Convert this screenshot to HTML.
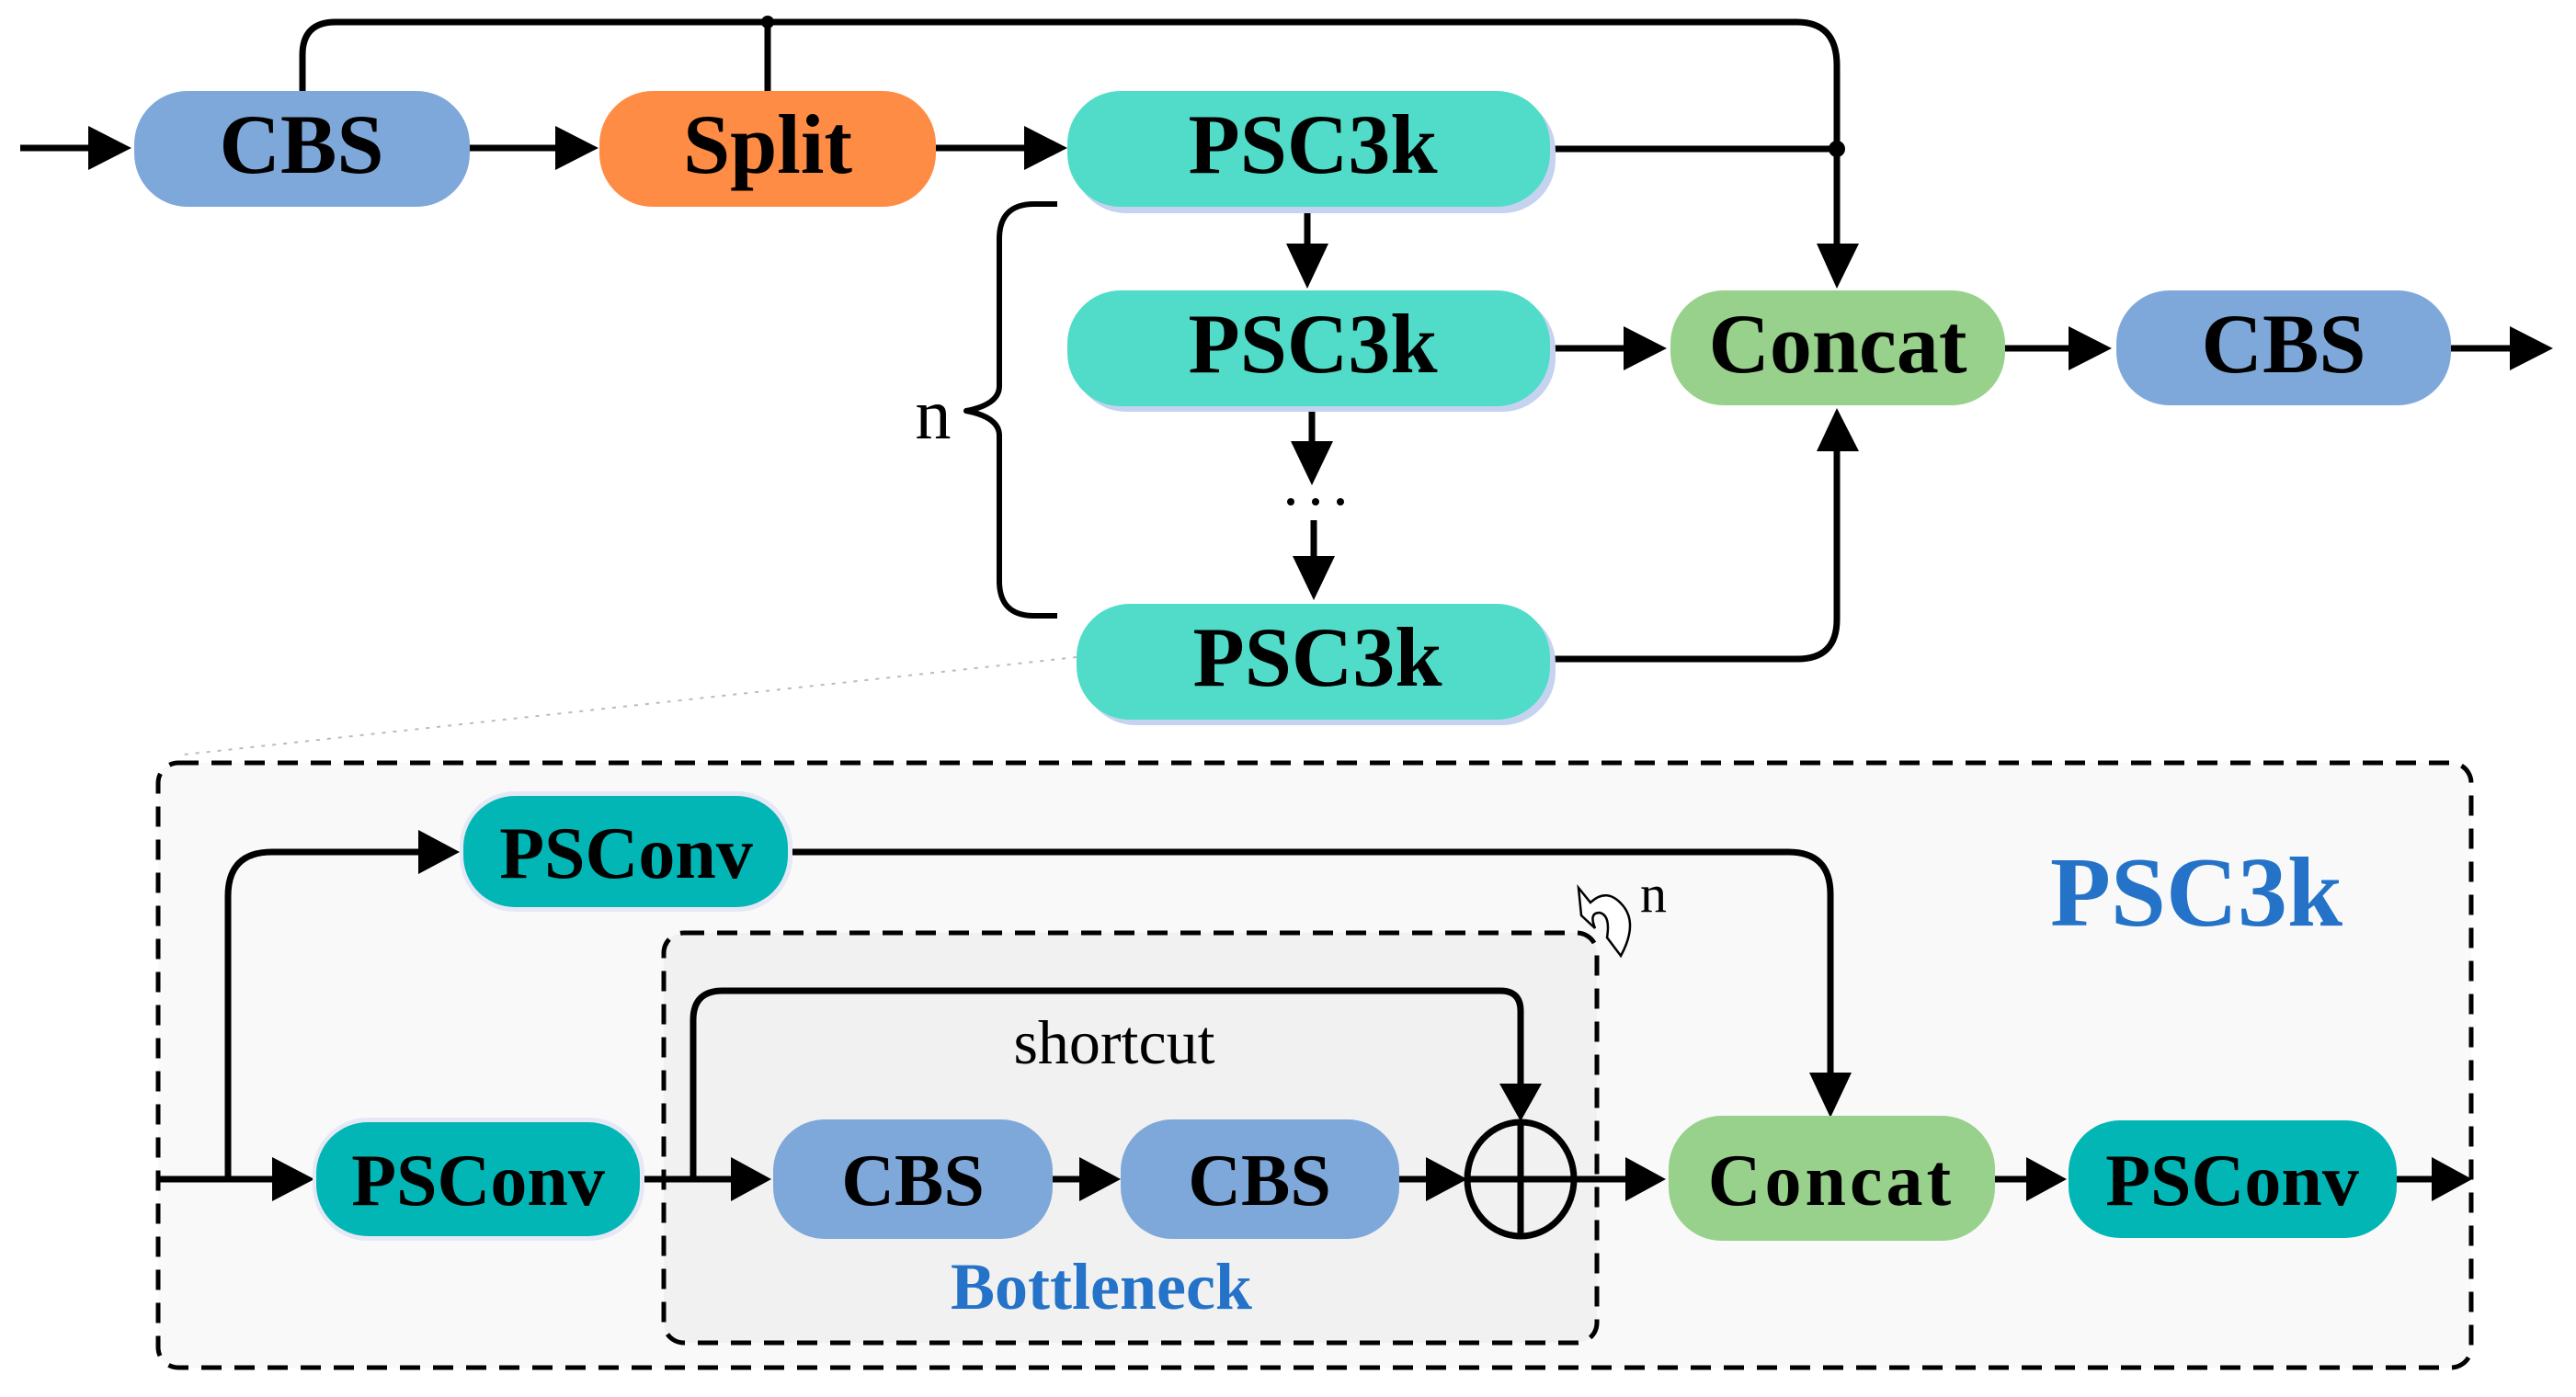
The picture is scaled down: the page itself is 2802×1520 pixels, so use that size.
<!DOCTYPE html>
<html><head><meta charset="utf-8"><style>
html,body{margin:0;padding:0;background:#fff;}
svg{display:block;}
text{font-family:"Liberation Serif",serif;}
.b{font-weight:bold;}
</style></head><body>
<svg width="2802" height="1520" viewBox="0 0 2802 1520" xmlns="http://www.w3.org/2000/svg">
<g fill="none" stroke="#000" stroke-width="7" stroke-linejoin="round">
<path d="M329 100 V60 Q329 24 365 24 H1954 Q1998 24 1998 71 V268"/>
<line x1="835" y1="24" x2="835" y2="100"/>
<line x1="22" y1="161" x2="100" y2="161"/>
<line x1="511" y1="161" x2="608" y2="161"/>
<line x1="1018" y1="161" x2="1118" y2="161"/>
<line x1="1686" y1="162" x2="1998" y2="162"/>
<line x1="1422" y1="228" x2="1422" y2="268"/>
<line x1="1686" y1="379" x2="1770" y2="379"/>
<line x1="2181" y1="379" x2="2254" y2="379"/>
<line x1="2666" y1="379" x2="2735" y2="379"/>
<line x1="1427" y1="443" x2="1427" y2="484"/>
<line x1="1429" y1="566" x2="1429" y2="608"/>
<path d="M1686 717 H1955 Q1998 717 1998 674 V490"/>
<path d="M1150 222 H1125 Q1087 222 1087 260 V420 Q1087 440 1051 447 Q1087 454 1087 474 V632 Q1087 670 1125 670 H1150" stroke-width="6"/>
</g>
<g fill="#000">
<polygon points="96,137 143,161 96,185"/>
<polygon points="604,137 651,161 604,185"/>
<polygon points="1114,137 1161,161 1114,185"/>
<circle cx="835" cy="24" r="7"/>
<circle cx="1998" cy="162" r="9"/>
<polygon points="1976,265 2022,265 1998,314"/>
<polygon points="1399,265 1445,265 1422,314"/>
<polygon points="1766,355 1813,379 1766,403"/>
<polygon points="2250,355 2297,379 2250,403"/>
<polygon points="2730,355 2777,379 2730,403"/>
<polygon points="1404,480 1450,480 1427,528"/>
<polygon points="1406,605 1452,605 1429,653"/>
<polygon points="1976,491 2022,491 1998,444"/>
<circle cx="1404" cy="546" r="4"/><circle cx="1431" cy="546" r="4"/><circle cx="1458" cy="546" r="4"/>
</g>
<text x="1015" y="477" font-size="78" text-anchor="middle">n</text>
<line x1="1171" y1="715" x2="200" y2="821" stroke="#bbb" stroke-width="2" stroke-dasharray="4 8"/>
<rect x="146" y="99" width="365" height="126" rx="58" fill="#7FA8DA"/>
<text x="328" y="188" font-size="92" class="b" text-anchor="middle">CBS</text>
<rect x="652" y="99" width="366" height="126" rx="58" fill="#FF8C45"/>
<text x="835" y="188" font-size="92" class="b" text-anchor="middle">Split</text>
<rect x="1167" y="106" width="525" height="126" rx="58" fill="#C5D3F0"/>
<rect x="1161" y="99" width="525" height="126" rx="58" fill="#50DCC8"/>
<text x="1428" y="188" font-size="92" class="b" text-anchor="middle">PSC3k</text>
<rect x="1167" y="322" width="525" height="126" rx="58" fill="#C5D3F0"/>
<rect x="1161" y="316" width="525" height="126" rx="58" fill="#50DCC8"/>
<text x="1428" y="405" font-size="92" class="b" text-anchor="middle">PSC3k</text>
<rect x="1177" y="663" width="515" height="126" rx="58" fill="#C5D3F0"/>
<rect x="1171" y="657" width="515" height="126" rx="58" fill="#50DCC8"/>
<text x="1433" y="746" font-size="92" class="b" text-anchor="middle">PSC3k</text>
<rect x="1817" y="316" width="364" height="125" rx="58" fill="#98D18B"/>
<text x="1999" y="405" font-size="92" class="b" text-anchor="middle">Concat</text>
<rect x="2302" y="316" width="364" height="125" rx="58" fill="#7FA8DA"/>
<text x="2484" y="405" font-size="92" class="b" text-anchor="middle">CBS</text>

<rect x="172" y="830" width="2516" height="658" rx="22" fill="#F9F9F9" stroke="#000" stroke-width="5" stroke-dasharray="22 14"/>
<rect x="722" y="1015" width="1015" height="446" rx="22" fill="#F1F1F1" stroke="#000" stroke-width="5" stroke-dasharray="22 14"/>

<g fill="none" stroke="#000" stroke-width="7" stroke-linejoin="round">
<line x1="174" y1="1283" x2="300" y2="1283"/>
<path d="M248 1283 V975 Q248 927 296 927 H460"/>
<path d="M857 927 H1945 Q1991 927 1991 973 V1170"/>
<line x1="696" y1="1283" x2="800" y2="1283"/>
<path d="M754 1283 V1110 Q754 1078 786 1078 H1632 Q1654 1078 1654 1100 V1180"/>
<line x1="1145" y1="1283" x2="1180" y2="1283"/>
<line x1="1522" y1="1283" x2="1560" y2="1283"/>
<line x1="1713" y1="1283" x2="1775" y2="1283"/>
<line x1="2170" y1="1283" x2="2210" y2="1283"/>
<line x1="2607" y1="1283" x2="2650" y2="1283"/>
<ellipse cx="1654" cy="1283" rx="58" ry="62"/>
<line x1="1596" y1="1283" x2="1712" y2="1283"/>
<line x1="1654" y1="1221" x2="1654" y2="1345"/>
</g>
<g fill="#000">
<polygon points="455,903 500,927 455,951"/>
<polygon points="1968,1167 2014,1167 1991,1216"/>
<polygon points="296,1259 342,1283 296,1307"/>
<polygon points="795,1259 839,1283 795,1307"/>
<polygon points="1174,1259 1219,1283 1174,1307"/>
<polygon points="1551,1259 1596,1283 1551,1307"/>
<polygon points="1768,1259 1812,1283 1768,1307"/>
<polygon points="2204,1259 2248,1283 2204,1307"/>
<polygon points="2645,1259 2689,1283 2645,1307"/>
<polygon points="1631,1179 1677,1179 1654,1220"/>
</g>
<rect x="500" y="861" width="362" height="131" rx="60" fill="#E6E8F5"/>
<rect x="504" y="866" width="353" height="121" rx="56" fill="#02B6B6"/>
<text x="681" y="955" font-size="80" class="b" text-anchor="middle">PSConv</text>
<rect x="340" y="1216" width="361" height="134" rx="60" fill="#E6E8F5"/>
<rect x="344" y="1221" width="352" height="124" rx="56" fill="#02B6B6"/>
<text x="520" y="1311" font-size="80" class="b" text-anchor="middle">PSConv</text>
<rect x="841" y="1218" width="304" height="130" rx="56" fill="#7FA8DA"/>
<text x="993" y="1311" font-size="80" class="b" text-anchor="middle">CBS</text>
<rect x="1219" y="1218" width="303" height="130" rx="56" fill="#7FA8DA"/>
<text x="1370" y="1311" font-size="80" class="b" text-anchor="middle">CBS</text>
<rect x="1815" y="1214" width="355" height="136" rx="58" fill="#98D18B"/>
<text x="1992" y="1311" font-size="80" class="b" text-anchor="middle" letter-spacing="4">Concat</text>
<rect x="2250" y="1219" width="357" height="128" rx="56" fill="#02B6B6"/>
<text x="2428" y="1311" font-size="80" class="b" text-anchor="middle">PSConv</text>

<text x="1212" y="1157" font-size="68" text-anchor="middle">shortcut</text>
<text x="1198" y="1424" font-size="72" class="b" text-anchor="middle" fill="#2573C8">Bottleneck</text>
<text x="2389" y="1007" font-size="108" class="b" text-anchor="middle" fill="#2573C8">PSC3k</text>
<path d="M1717 966 L1720 996 L1735 1010 Q1728 993 1740 993 Q1752 996 1748 1020 L1763 1040 Q1782 1005 1765 985 Q1748 965 1730 982 Z" fill="#fff" stroke="#000" stroke-width="2.5"/>
<text x="1784" y="992" font-size="58">n</text>
</svg>
</body></html>
